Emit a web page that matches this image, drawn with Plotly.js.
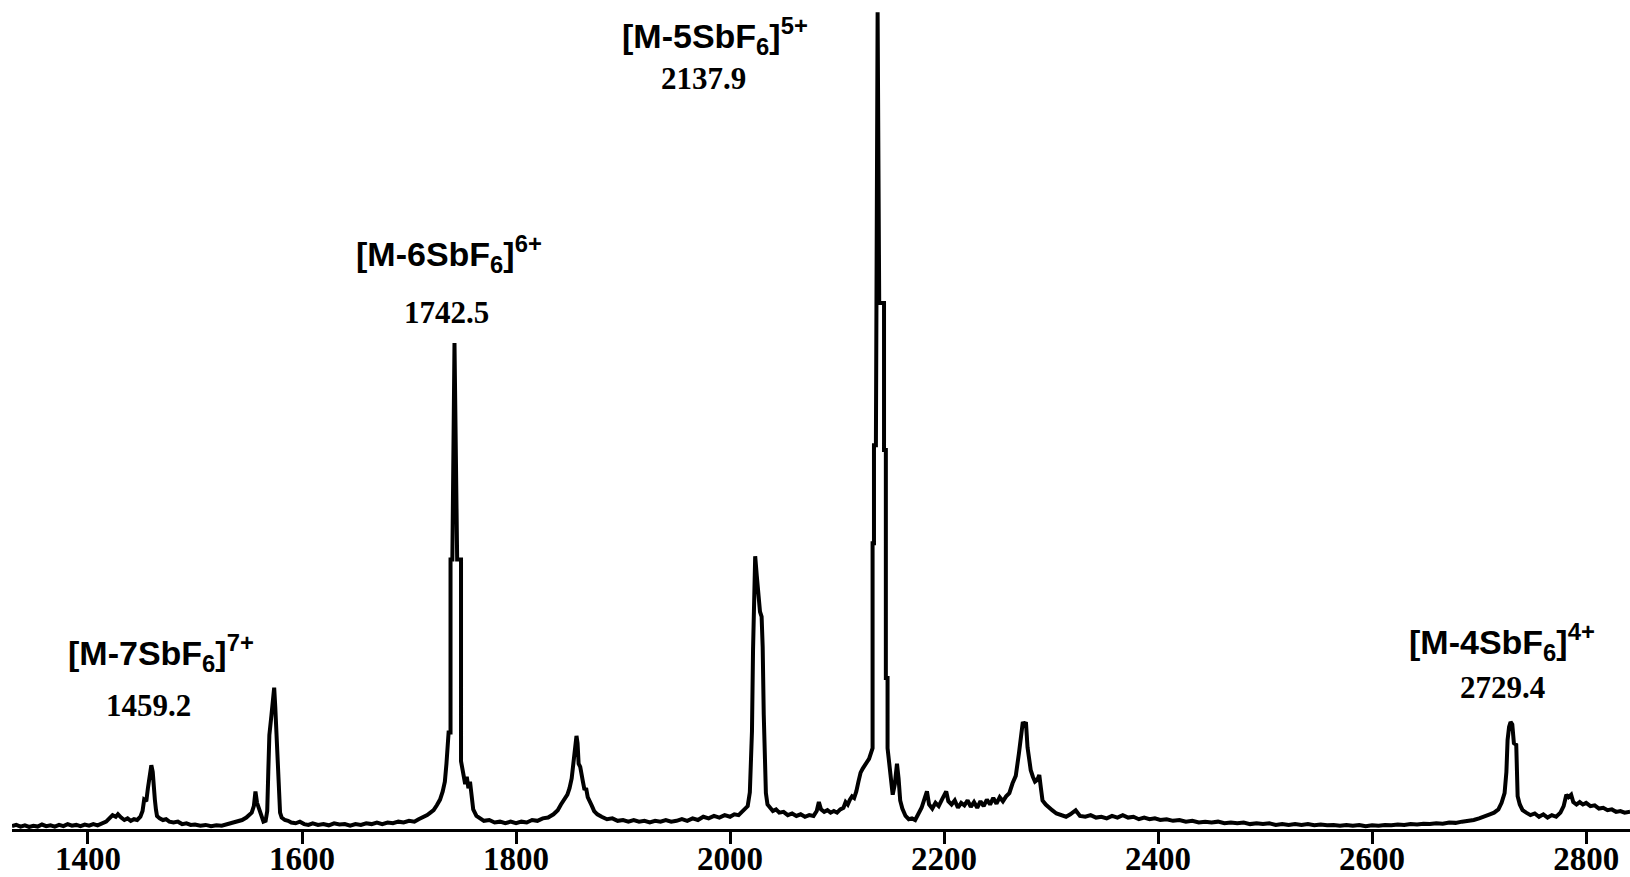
<!DOCTYPE html>
<html>
<head>
<meta charset="utf-8">
<script src="https://cdn.plot.ly/plotly-3.0.1.min.js"></script>
<style>
  html, body { margin: 0; padding: 0; background: #fff; }
  #chart { width: 1630px; height: 877px; }
</style>
</head>
<body>
<div id="chart"></div>
<script>
// ESI mass spectrum: m/z and relative intensity (%)
const mz = [
  1329, 1333, 1337, 1341, 1345, 1349, 1353, 1357, 1361, 1365, 1369, 1373, 1377, 1381, 1385, 1389,
  1393, 1397, 1401, 1405, 1409, 1413, 1417, 1420, 1423, 1426, 1428, 1431, 1434, 1437, 1440, 1443,
  1446, 1449, 1451, 1452.5, 1454.5, 1456, 1458, 1459.2, 1460.5, 1461.5, 1462.5, 1463.5, 1464.5, 1467,
  1470, 1473, 1476, 1480, 1484, 1488, 1492, 1496, 1500, 1505, 1510, 1515, 1520, 1525, 1530, 1535,
  1540, 1544, 1548, 1551, 1553, 1555, 1556.5, 1558, 1560, 1562, 1564, 1566, 1567.5, 1568.5, 1569.5,
  1571.5, 1573, 1574, 1575, 1576.5, 1577.5, 1578.5, 1579.5, 1581, 1584, 1587, 1590, 1594, 1598,
  1602, 1606, 1610, 1615, 1620, 1625, 1630, 1635, 1640, 1645, 1650, 1655, 1660, 1665, 1670, 1675,
  1680, 1685, 1690, 1695, 1700, 1705, 1709, 1713, 1717, 1720, 1723, 1726, 1729, 1731.5, 1733.5, 1735,
  1737, 1738.8, 1738.8, 1740.5, 1742.5, 1745, 1748.6, 1748.6, 1750, 1751, 1752.5, 1754, 1755.5,
  1757, 1758.5, 1760, 1763, 1766, 1770, 1775, 1780, 1785, 1790, 1795, 1800, 1805, 1810, 1815, 1820,
  1825, 1830, 1835, 1839, 1842, 1845, 1848, 1850, 1852, 1854, 1855.5, 1856.5, 1857.5, 1858.5, 1860,
  1861, 1862.5, 1864, 1865.5, 1867, 1869, 1871, 1873, 1876, 1880, 1885, 1890, 1895, 1900, 1905,
  1910, 1915, 1920, 1925, 1930, 1935, 1940, 1945, 1950, 1955, 1960, 1965, 1970, 1975, 1980, 1985,
  1990, 1995, 2000, 2004, 2008, 2011, 2014, 2016.5, 2018.5, 2019.5, 2020.5, 2021.5, 2022.5, 2023.5,
  2025, 2026.5, 2028, 2029.5, 2030.5, 2031.5, 2032.5, 2033.5, 2035, 2037, 2040, 2043, 2046, 2050,
  2054, 2058, 2062, 2066, 2070, 2074, 2078, 2081, 2083, 2085, 2088, 2091, 2094, 2097, 2100, 2103,
  2106, 2108, 2110, 2112, 2114, 2116, 2118, 2120, 2122, 2124, 2126, 2128, 2129.9, 2133.2, 2133.2,
  2134.5, 2134.5, 2136.3, 2137.9, 2139.4, 2143.9, 2143.9, 2145.6, 2145.6, 2147.2, 2147.2, 2148.7,
  2150.5, 2152, 2154, 2156, 2157.5, 2159, 2161, 2164, 2167, 2170, 2173, 2176, 2179, 2182, 2184, 2186,
  2189, 2192, 2195, 2198, 2200, 2202, 2204, 2207, 2210, 2213, 2216, 2219, 2222, 2225, 2228, 2231,
  2234, 2237, 2240, 2243, 2246, 2249, 2252, 2255, 2258, 2261, 2264, 2267, 2270, 2272, 2273.6, 2275,
  2276.5, 2278, 2279.5, 2281, 2283, 2285, 2287, 2289, 2290.5, 2292, 2295, 2298, 2301, 2305, 2309,
  2314, 2318, 2323, 2327, 2332, 2337, 2342, 2347, 2352, 2357, 2362, 2367, 2372, 2377, 2382, 2387,
  2392, 2397, 2402, 2408, 2414, 2420, 2426, 2432, 2438, 2444, 2450, 2456, 2462, 2468, 2474, 2480,
  2486, 2492, 2498, 2504, 2510, 2516, 2522, 2528, 2534, 2540, 2546, 2552, 2558, 2564, 2570, 2576,
  2582, 2588, 2594, 2600, 2606, 2612, 2618, 2624, 2630, 2636, 2642, 2648, 2654, 2660, 2666, 2672,
  2678, 2684, 2690, 2695, 2700, 2705, 2710, 2714, 2718, 2721, 2723.8, 2725.5, 2726.6, 2728, 2729.4,
  2731, 2732.5, 2734.7, 2736, 2738, 2740.6, 2744, 2748, 2752, 2756, 2760, 2764, 2768, 2772, 2776,
  2779, 2781.5, 2783.5, 2786, 2788, 2791, 2794, 2797, 2800, 2804, 2808, 2812, 2816, 2820, 2824, 2828,
  2832, 2836, 2841
];

const intensity = [
  0.35, 0.5, 0.3, 0.45, 0.25, 0.4, 0.3, 0.55, 0.35, 0.45, 0.3, 0.5, 0.35, 0.6, 0.4, 0.5,
  0.35, 0.55, 0.4, 0.6, 0.45, 0.7, 0.9, 1.3, 1.7, 1.5, 1.8, 1.4, 1.1, 1.3, 1.0, 1.2,
  1.1, 1.5, 2.2, 3.6, 3.4, 5.0, 7.2, 7.8, 7.0, 4.2, 3.6, 2.4, 1.6, 1.3,
  1.1, 1.2, 0.9, 0.8, 0.9, 0.6, 0.7, 0.5, 0.55, 0.4, 0.5, 0.35, 0.45, 0.4, 0.6, 0.7,
  0.9, 1.1, 1.4, 1.7, 2.0, 2.8, 4.6, 3.2, 2.4, 1.5, 0.9, 1.0, 2.2, 7.0, 11.5,
  14.0, 16.5, 17.3, 15.0, 11.0, 9.5, 5.0, 2.0, 1.4, 1.1, 1.0, 0.8, 0.7, 0.9,
  0.6, 0.5, 0.7, 0.5, 0.6, 0.45, 0.7, 0.55, 0.6, 0.4, 0.6, 0.5, 0.7, 0.6, 0.8, 0.6,
  0.8, 0.7, 0.9, 0.8, 1.0, 0.9, 1.2, 1.4, 1.7, 2.0, 2.3, 2.9, 3.6, 4.6, 5.8, 8.0,
  11.8, 11.8, 33.0, 33.0, 59.5, 33.0, 33.0, 8.3, 7.0, 6.9, 5.5, 6.4, 5.0,
  5.8, 3.8, 2.4, 1.6, 1.3, 1.0, 1.1, 0.8, 0.9, 0.7, 0.9, 0.7, 0.9, 0.8, 1.1, 1.0,
  1.3, 1.4, 1.8, 2.3, 3.0, 3.6, 4.2, 5.0, 6.2, 8.5, 11.0, 11.4, 10.5, 8.0, 7.6,
  6.5, 5.8, 4.8, 5.0, 3.9, 3.2, 2.8, 2.2, 1.8, 1.5, 1.2, 1.3, 1.0, 1.1, 0.9,
  1.1, 0.9, 1.0, 0.8, 1.0, 0.9, 1.1, 0.9, 1.0, 1.2, 1.0, 1.3, 1.1, 1.5, 1.3, 1.6,
  1.4, 1.7, 1.5, 1.8, 1.7, 2.1, 2.4, 2.8, 4.5, 8.0, 12.0, 22.0, 31.0, 33.4,
  31.0, 28.5, 26.6, 26.0, 22.3, 14.0, 8.0, 4.4, 3.0, 2.6, 2.2, 2.4, 2.0, 2.1,
  1.7, 1.9, 1.6, 1.8, 1.5, 1.7, 1.6, 2.2, 3.3, 2.4, 2.1, 2.3, 2.0, 2.2, 2.0, 2.4,
  2.6, 3.3, 3.0, 3.6, 4.0, 3.8, 4.6, 5.8, 6.9, 7.4, 7.8, 8.2, 8.6, 9.9, 35.0,
  35.0, 47.0, 47.0, 100.0, 64.4, 64.4, 46.4, 46.4, 18.5, 18.5, 9.9, 7.9,
  6.5, 4.2, 5.5, 8.0, 6.2, 3.5, 2.5, 1.6, 1.2, 1.3, 1.1, 1.8, 2.6, 3.8, 4.6, 3.0,
  2.5, 3.2, 2.8, 3.6, 4.2, 4.6, 3.4, 3.0, 3.5, 2.6, 3.2, 2.9, 3.5, 2.7, 3.3, 2.6,
  3.4, 2.8, 3.6, 3.0, 3.8, 3.1, 3.9, 3.4, 4.0, 4.4, 5.6, 6.5, 9.3, 11.5, 13.1, 12.8,
  13.1, 10.0, 8.0, 7.2, 6.4, 5.8, 6.0, 6.6, 5.0, 3.5, 3.0, 2.6, 2.3, 1.9, 1.7,
  1.5, 1.8, 2.3, 1.6, 1.5, 1.7, 1.4, 1.5, 1.3, 1.6, 1.4, 1.7, 1.4, 1.5, 1.2, 1.4,
  1.2, 1.3, 1.1, 1.2, 1.0, 1.1, 0.9, 1.0, 0.8, 0.9, 0.8, 0.9, 0.7, 0.8, 0.7, 0.8,
  0.6, 0.7, 0.6, 0.7, 0.5, 0.6, 0.5, 0.6, 0.5, 0.6, 0.45, 0.55, 0.45, 0.5, 0.4, 0.5,
  0.4, 0.5, 0.35, 0.45, 0.4, 0.5, 0.45, 0.55, 0.5, 0.6, 0.55, 0.65, 0.6, 0.7, 0.65, 0.8,
  0.75, 0.9, 1.0, 1.1, 1.3, 1.5, 1.8, 2.0, 2.4, 3.2, 4.4, 7.0, 10.9, 12.5, 13.1,
  12.8, 10.5, 10.3, 4.0, 3.0, 2.3, 2.0, 1.7, 1.9, 1.5, 1.8, 1.4, 1.7, 1.5, 2.0,
  2.8, 4.2, 3.9, 4.2, 3.3, 3.0, 3.3, 3.0, 3.2, 2.8, 2.9, 2.5, 2.6, 2.3, 2.4, 2.1,
  2.2, 2.0, 2.1
];

// Labelled ions: formula, charge and observed m/z
const ionFormulas = ['[M-7SbF<sub>6</sub>]<sup>7+</sup>', '[M-6SbF<sub>6</sub>]<sup>6+</sup>',
                     '[M-5SbF<sub>6</sub>]<sup>5+</sup>', '[M-4SbF<sub>6</sub>]<sup>4+</sup>'];
const ionMz = [1459.2, 1742.5, 2137.9, 2729.4];

const tickValues = [1400, 1600, 1800, 2000, 2200, 2400, 2600, 2800];

// label placement (paper coordinates) for formula line and m/z line
const formulaPos = [[0.0918, 0.2123], [0.2701, 0.6936], [0.4343, 0.9566], [0.9209, 0.2256]];
const massPos    = [[0.0844, 0.1484], [0.2685, 0.6236], [0.4271, 0.9059], [0.9215, 0.1701]];

const annotations = [];
ionFormulas.forEach((f, i) => {
  annotations.push({
    xref: 'paper', yref: 'paper', x: formulaPos[i][0], y: formulaPos[i][1],
    xanchor: 'center', yanchor: 'middle', showarrow: false, text: f,
    font: { family: 'Liberation Sans, Arial, sans-serif', size: 34, weight: 'bold', color: '#000' }
  });
  annotations.push({
    xref: 'paper', yref: 'paper', x: massPos[i][0], y: massPos[i][1],
    xanchor: 'center', yanchor: 'middle', showarrow: false, text: ionMz[i].toFixed(1),
    font: { family: 'Liberation Serif, Times New Roman, serif', size: 31, weight: 'bold', color: '#000' }
  });
});

const trace = {
  x: mz, y: intensity, type: 'scatter', mode: 'lines',
  line: { color: '#000', width: 4 }, hoverinfo: 'skip'
};

const layout = {
  width: 1630, height: 877,
  margin: { l: 12, r: 0, t: 0, b: 48 },
  paper_bgcolor: '#fff', plot_bgcolor: '#fff',
  showlegend: false,
  xaxis: {
    range: [1329, 2841], tickvals: tickValues, ticktext: tickValues.map(String),
    showline: true, linecolor: '#000', linewidth: 2.5, showgrid: false, zeroline: false,
    ticks: 'outside', ticklen: 12, tickwidth: 3, tickcolor: '#000',
    ticklabelstandoff: -13,
    tickfont: { family: 'Liberation Serif, Times New Roman, serif', size: 33, weight: 'bold', color: '#000' }
  },
  yaxis: { range: [0, 101.5], visible: false, showgrid: false, zeroline: false },
  annotations: annotations
};

Plotly.newPlot('chart', [trace], layout, { displayModeBar: false, staticPlot: true });
</script>
</body>
</html>
